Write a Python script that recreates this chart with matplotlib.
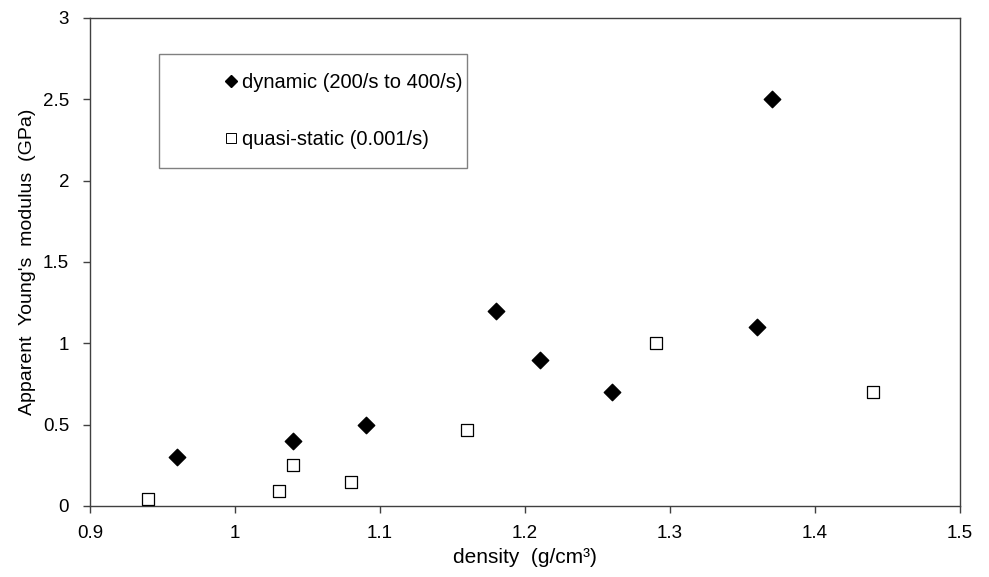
import matplotlib
matplotlib.use("Agg")
import matplotlib.pyplot as plt
from matplotlib.lines import Line2D
from matplotlib.patches import Rectangle

dyn_density = [0.96, 1.04, 1.09, 1.18, 1.21, 1.26, 1.36, 1.37]
dyn_modulus = [0.30, 0.40, 0.50, 1.20, 0.90, 0.70, 1.10, 2.50]
qs_density = [0.94, 1.03, 1.04, 1.08, 1.16, 1.29, 1.44]
qs_modulus = [0.04, 0.09, 0.25, 0.15, 0.47, 1.00, 0.70]
xticks = [0.9, 1.0, 1.1, 1.2, 1.3, 1.4, 1.5]
xticklabels = ["0.9", "1", "1.1", "1.2", "1.3", "1.4", "1.5"]
yticks = [0, 0.5, 1, 1.5, 2, 2.5, 3]
yticklabels = ["0", "0.5", "1", "1.5", "2", "2.5", "3"]

plt.rcParams['font.family'] = ['Liberation Sans', 'DejaVu Sans']

W, H = 989, 577
fig = plt.figure(figsize=(W/100, H/100), dpi=100)
ax = fig.add_axes([90/W, (H-506)/H, (960-90)/W, (506-18)/H])

ax.scatter(dyn_density, dyn_modulus, marker='D', s=70, color='black', zorder=3)
ax.scatter(qs_density, qs_modulus, marker='s', s=80, facecolor='white',
           edgecolor='black', linewidths=0.9, zorder=3)

ax.set_xlim(0.9, 1.5)
ax.set_ylim(0, 3)
ax.set_xticks(xticks)
ax.set_xticklabels(xticklabels)
ax.set_yticks(yticks)
ax.set_yticklabels(yticklabels)
ax.tick_params(direction='out', length=5, width=1, labelsize=13.5, color='#404040')
ax.tick_params(axis='x', pad=9)
ax.tick_params(axis='y', pad=10)
for s in ax.spines.values():
    s.set_color('#404040')
    s.set_linewidth(1.0)

ax.set_xlabel("density  (g/cm\u00b3)", fontsize=15, labelpad=4)
ax.set_ylabel("Apparent  Young's  modulus  (GPa)", fontsize=14, labelpad=5)

# legend frame
ax.add_patch(Rectangle((69/870, (506-168)/488), (467-159)/870, (168-54)/488,
                       transform=ax.transAxes, facecolor='white',
                       edgecolor='#808080', linewidth=1.0, zorder=4))

handles = [
    Line2D([], [], marker='D', color='black', linestyle='none', markersize=6),
    Line2D([], [], marker='s', markerfacecolor='white', markeredgecolor='black',
           markeredgewidth=0.7, linestyle='none', markersize=7.5),
]
labels = ["dynamic (200/s to 400/s)", "quasi-static (0.001/s)"]
leg = ax.legend(handles, labels, loc='center left',
                bbox_to_anchor=(0.155, (506-111)/488),
                fontsize=14.5, frameon=False,
                borderpad=0, labelspacing=1.85, handlelength=0.6,
                handletextpad=0.25, borderaxespad=0)
leg.set_zorder(5)

fig.savefig("out.png", dpi=100)
